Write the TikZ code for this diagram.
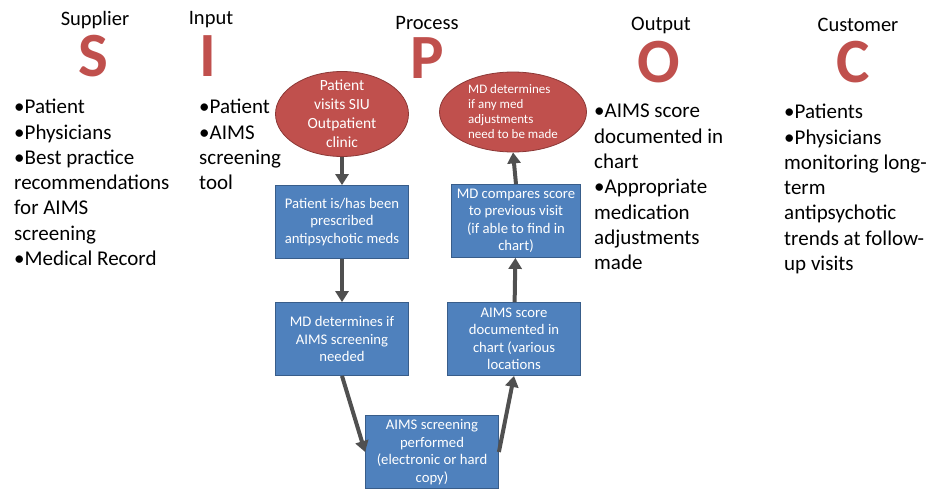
\documentclass[tikz,border=0pt]{standalone}
\usepackage{fontspec}
\setmainfont{Carlito}
\usetikzlibrary{arrows.meta, positioning, shapes.geometric}
\definecolor{sipocred}{RGB}{192, 80, 77}
\definecolor{sipocredline}{RGB}{140, 56, 54}
\definecolor{sipocblue}{RGB}{79, 129, 189}
\definecolor{sipocblueline}{RGB}{56, 93, 138}
\definecolor{sipocgray}{RGB}{80, 80, 80}

\begin{document}
\begin{tikzpicture}[
      x=1pt, y=-1pt,
      head/.style={font=\fontsize{20.5}{24}\selectfont},
      letter/.style={font=\fontsize{63}{63}\selectfont\bfseries, text=sipocred, inner sep=0pt},
      items/.style={anchor=north west, align=left, inner sep=0pt, font=\fontsize{21}{25.3}\selectfont},
      stepbox/.style={rectangle, draw=sipocblueline, fill=sipocblue, line width=0.8pt, minimum width=133pt, minimum height=73pt, align=center, text=white, font=\fontsize{14.7}{17.5}\selectfont, inner sep=2pt},
      endell/.style={ellipse, draw=sipocredline, fill=sipocred, line width=0.8pt, inner sep=0pt},
      elltext/.style={text=white, inner sep=0pt},
      flow/.style={-{Triangle[length=11pt, width=13pt]}, line width=4pt, sipocgray}
    ]
      \fill[white] (0,0) rectangle (935,493);
      \useasboundingbox (0,0) rectangle (935,493);

      \node[head] (supH) at (95, 20) {Supplier};
      \node[head] (inH) at (211, 20) {Input};
      \node[head] (procH) at (427, 23) {Process};
      \node[head] (outH) at (661, 25) {Output};
      \node[head] (custH) at (858, 25) {Customer};

      \node[letter] (S) at (93, 56) {S};
      \node[letter] (I) at (208, 56) {I};
      \node[letter] (P) at (427, 58) {P};
      \node[letter] (O) at (659, 62) {O};
      \node[letter] (C) at (853, 62) {C};

      \node[items] (supL) at (14, 99) {•Patient\\•Physicians\\•Best practice\\recommendations\\for AIMS\\screening\\•Medical Record};
      \node[items] (inL) at (199, 99) {•Patient\\•AIMS\\screening\\tool};
      \node[items] (outL) at (594, 104) {•AIMS score\\documented in\\chart\\•Appropriate\\medication\\adjustments\\made};
      \node[items] (custL) at (784, 104) {•Patients\\•Physicians\\monitoring long-\\term\\antipsychotic\\trends at follow-\\up visits};

      \node[endell, minimum width=133pt, minimum height=85pt] (visit) at (342, 114) {};
      \node[elltext, align=center, font=\fontsize{15.5}{19}\selectfont] (visitT) at (visit) {Patient\\visits SIU\\Outpatient\\clinic};
      \node[endell, minimum width=147pt, minimum height=80pt] (adjust) at (513, 112) {};
      \node[elltext, align=left, font=\fontsize{13}{15}\selectfont] (adjustT) at (adjust) {MD determines\\if any med\\adjustments\\need to be made};

      \node[stepbox] (presc) at (342, 222) {Patient is/has been\\prescribed\\antipsychotic meds};
      \node[stepbox] (need) at (342, 339) {MD determines if\\AIMS screening\\needed};
      \node[stepbox] (perf) at (432, 452) {AIMS screening\\performed\\(electronic or hard\\copy)};
      \node[stepbox] (doc) at (514, 339) {AIMS score\\documented in\\chart (various\\locations};
      \node[stepbox, minimum width=129pt] (comp) at (516, 221) {MD compares score\\to previous visit\\(if able to find in\\chart)};

      \draw[flow] (visit) -- (presc);
      \draw[flow] (presc) -- (need);
      \draw[flow] (need.south) -- (perf.west);
      \draw[flow] (perf.east) -- (doc.south);
      \draw[flow] (doc) -- (comp);
      \draw[flow] (comp.north) -- (adjust.south);
    \end{tikzpicture}
\end{document}
